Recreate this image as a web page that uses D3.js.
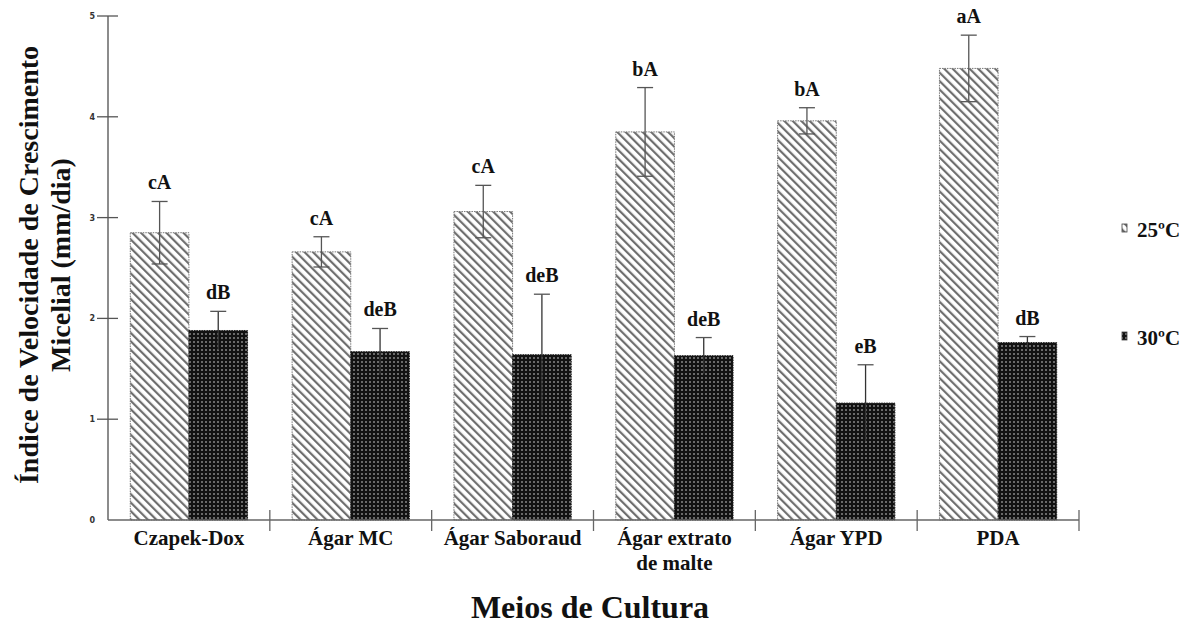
<!DOCTYPE html>
<html><head><meta charset="utf-8">
<script src="https://cdn.jsdelivr.net/npm/d3@7"></script>
<style>body{margin:0;background:#fff}svg{display:block}</style>
</head><body>
<svg id="c" width="1195" height="624"></svg>
<script>
const categories = ["Czapek-Dox", "Ágar MC", "Ágar Saboraud", "Ágar extrato\nde malte", "Ágar YPD", "PDA"];
const series = ["25ºC", "30ºC"];
const values25 = [2.85, 2.66, 3.06, 3.85, 3.96, 4.48];
const values30 = [1.88, 1.67, 1.64, 1.63, 1.16, 1.76];
const err25 = [0.31, 0.15, 0.26, 0.44, 0.13, 0.33];
const err30 = [0.19, 0.23, 0.60, 0.18, 0.38, 0.06];
const letters25 = ["cA", "cA", "cA", "bA", "bA", "aA"];
const letters30 = ["dB", "deB", "deB", "deB", "eB", "dB"];
const yTicks = [0, 1, 2, 3, 4, 5];

const svg = d3.select("#c");
const serif = "Liberation Serif, Times New Roman, DejaVu Serif, serif";
const defs = svg.append("defs");
const p1 = defs.append("pattern").attr("id","hatch").attr("patternUnits","userSpaceOnUse")
  .attr("width",6).attr("height",6).attr("patternTransform","rotate(-45)");
p1.append("rect").attr("width",6).attr("height",6).attr("fill","#fff");
p1.append("rect").attr("x",0).attr("width",2.2).attr("height",6).attr("fill","#6e6e6e");
const p2 = defs.append("pattern").attr("id","cross").attr("patternUnits","userSpaceOnUse")
  .attr("width",4).attr("height",4);
p2.append("rect").attr("width",4).attr("height",4).attr("fill","#121212");
p2.append("rect").attr("x",1).attr("y",1).attr("width",2).attr("height",2).attr("fill","#6a6a6a");

const x0 = 108, x1 = 1079, yTop = 16, yBot = 520;
const x = d3.scaleBand().domain(d3.range(categories.length)).range([x0, x1]).paddingInner(0).paddingOuter(0);
const xs = d3.scaleBand().domain([0,1]).range([0, x.bandwidth()]).paddingOuter(0.38).paddingInner(0);
const y = d3.scaleLinear().domain([0,5]).range([yBot, yTop]);

const data = [];
categories.forEach((c,i)=>{
  data.push({i, s:0, v:values25[i], e:err25[i], l:letters25[i]});
  data.push({i, s:1, v:values30[i], e:err30[i], l:letters30[i]});
});

const bx = d => x(d.i) + xs(d.s);
svg.append("g").selectAll("rect").data(data).join("rect")
  .attr("x", bx).attr("width", xs.bandwidth())
  .attr("y", d=>y(d.v)).attr("height", d=>y(0)-y(d.v))
  .attr("fill", d=> d.s===0 ? "url(#hatch)" : "url(#cross)")
  .attr("stroke", d=> d.s===0 ? "#777" : "#222").attr("stroke-width",1).attr("stroke-dasharray","1.5,1");

// error bars
const eg = svg.append("g").attr("stroke","#555").attr("stroke-width",1.3);
data.forEach(d=>{
  const cx = bx(d) + xs.bandwidth()/2;
  eg.append("line").attr("x1",cx).attr("x2",cx).attr("y1",y(d.v+d.e)).attr("y2",y(d.v-d.e))
    .attr("stroke", d.s===0 ? "#555" : "#333");
  eg.append("line").attr("x1",cx-8).attr("x2",cx+8).attr("y1",y(d.v+d.e)).attr("y2",y(d.v+d.e));
  if (d.s===0) eg.append("line").attr("x1",cx-8).attr("x2",cx+8).attr("y1",y(d.v-d.e)).attr("y2",y(d.v-d.e));
  svg.append("text").attr("x",cx).attr("y",y(d.v+d.e)-12).attr("text-anchor","middle")
    .attr("font-family",serif).attr("font-weight","bold").attr("font-size",20).attr("fill","#111").text(d.l);
});

// y axis
const ya = svg.append("g");
ya.append("line").attr("x1",x0).attr("x2",x0).attr("y1",yTop).attr("y2",yBot).attr("stroke","#666").attr("stroke-width",1.5);
yTicks.forEach(t=>{
  if (t>0) ya.append("line").attr("x1",x0-11).attr("x2",x0+10).attr("y1",y(t)).attr("y2",y(t)).attr("stroke","#555").attr("stroke-width",1.3);
  ya.append("text").attr("x",x0-13).attr("y",y(t)+3).attr("text-anchor","end")
    .attr("font-family","DejaVu Sans, sans-serif").attr("font-size",8).attr("font-weight","bold").attr("fill","#333").text(t);
});
// x axis
const xa = svg.append("g");
xa.append("line").attr("x1",x0).attr("x2",x1).attr("y1",yBot).attr("y2",yBot).attr("stroke","#666").attr("stroke-width",1.5);
d3.range(1,categories.length+1).forEach(k=>{
  const px = k<categories.length ? x(k) : x1;
  xa.append("line").attr("x1",px).attr("x2",px).attr("y1",yBot-10).attr("y2",yBot+11).attr("stroke","#666").attr("stroke-width",1.3);
});
categories.forEach((c,i)=>{
  const t = xa.append("text").attr("x",x(i)+x.bandwidth()/2).attr("y",545).attr("text-anchor","middle")
    .attr("font-family",serif).attr("font-weight","bold").attr("font-size",21).attr("fill","#111");
  c.split("\n").forEach((ln,k)=>t.append("tspan").attr("x",x(i)+x.bandwidth()/2).attr("dy",k?25:0).text(ln));
});

// titles
svg.append("text").attr("x",590).attr("y",618).attr("text-anchor","middle")
  .attr("font-family",serif).attr("font-weight","bold").attr("font-size",32).attr("fill","#111").text("Meios de Cultura");
const yt = svg.append("text").attr("transform","translate(38,265) rotate(-90)").attr("text-anchor","middle")
  .attr("font-family",serif).attr("font-weight","bold").attr("font-size",28).attr("fill","#111");
yt.append("tspan").attr("x",0).attr("dy",0).text("Índice de Velocidade de Crescimento");
yt.append("tspan").attr("x",0).attr("dy",32).text("Micelial (mm/dia)");

// legend
const legY = [230, 338];
series.forEach((s,k)=>{
  svg.append("rect").attr("x",1122).attr("y",legY[k]-6).attr("width",5).attr("height",8)
    .attr("fill", k===0 ? "url(#hatch)" : "url(#cross)").attr("stroke","#444").attr("stroke-width",0.8);
  svg.append("text").attr("x",1137).attr("y",legY[k]+7).attr("font-family",serif).attr("font-weight","bold")
    .attr("font-size",21).attr("fill","#111").text(s);
});
</script>
</body></html>
